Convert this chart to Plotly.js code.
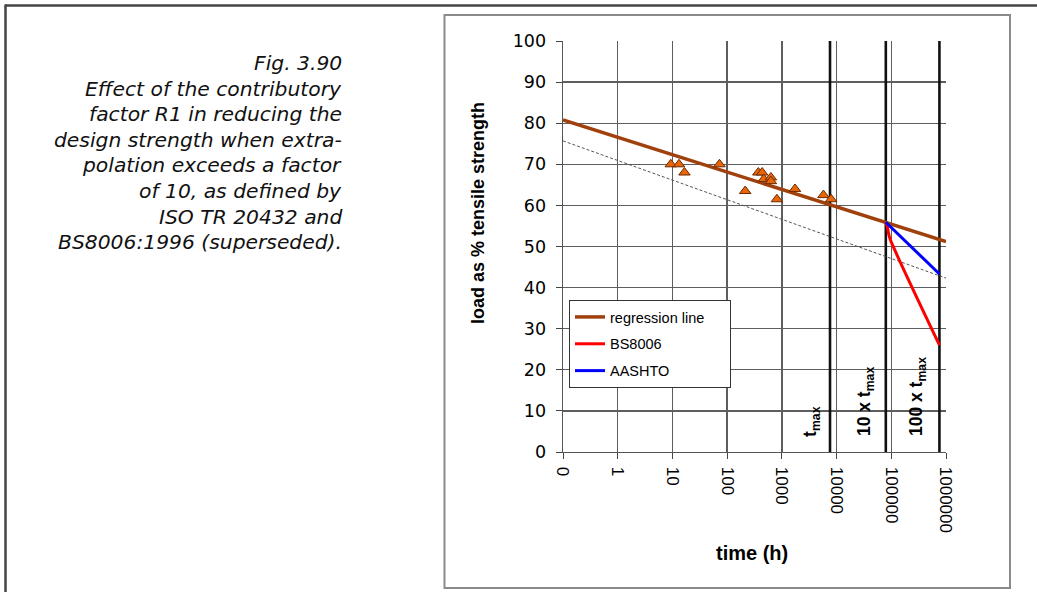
<!DOCTYPE html>
<html>
<head>
<meta charset="utf-8">
<script src="https://cdn.plot.ly/plotly-3.0.1.min.js"></script>
<style>
html,body{margin:0;padding:0;background:#fff;}
#chart{width:1037px;height:592px;}
</style>
</head>
<body>
<div id="chart"></div>
<script>
// x axis is log10(time)+1 position: 0 -> "0", 1 -> "1", 2 -> "10", ...
const tickPositions = [0, 1, 2, 3, 4, 5, 6, 7];
const tickLabels = ["0", "1", "10", "100", "1000", "10000", "100000", "1000000"];
const yTicks = [0, 10, 20, 30, 40, 50, 60, 70, 80, 90, 100];

// test data points (triangles)
const dataX = [1.97, 2.12, 2.22, 2.86, 3.33, 3.57, 3.64, 3.67, 3.80, 3.80, 3.91, 4.24, 4.76, 4.90];
const dataY = [70.0, 70.0, 68.0, 70.0, 63.5, 68.0, 68.0, 66.4, 66.8, 65.9, 61.5, 64.0, 62.5, 61.5];

// regression line
const regX = [0, 7];
const regY = [80.8, 51.2];

// lower confidence (dotted) line
const lowX = [0, 7];
const lowY = [75.7, 42.3];

// BS8006 extrapolation
const bsX = [5.90, 5.927, 5.964, 6.037, 6.88];
const bsY = [55.9, 54.8, 52.4, 49.95, 26.0];

// AASHTO extrapolation
const aaX = [5.90, 6.88];
const aaY = [55.9, 43.3];

// t_max markers
const markerX = [4.88, 5.90, 6.88];
const markerLabels = ["<b>t<sub>max</sub></b>", "<b>10 x t<sub>max</sub></b>", "<b>100 x t<sub>max</sub></b>"];
const markerLabelX = [4.55, 5.54, 6.49];

const legendNames = ["regression line", "BS8006", "AASHTO"];
const legendPad = "&nbsp;&nbsp;&nbsp;&nbsp;&nbsp;";

const captionLines = [
  "Fig. 3.90",
  "Effect of the contributory",
  "factor R1 in reducing the",
  "design strength when extra-",
  "polation exceeds a factor",
  "of 10, as defined by",
  "ISO TR 20432 and",
  "BS8006:1996 (superseded)."
];
const captionY = [63.3, 89.3, 114.3, 140, 165, 191, 216.7, 241.7];

// plot geometry (px)
const L = 563, R = 946, T = 41, B = 452, W = 1037, H = 592;
const px2x = p => (p - L) / (R - L);
const py2y = p => (B - p) / (B - T);

const traces = [];
// vertical t_max lines
markerX.forEach(function (x) {
  traces.push({x: [x, x], y: [0, 100], mode: 'lines', line: {color: '#111', width: 2.6},
    showlegend: false, hoverinfo: 'skip'});
});
traces.push({x: lowX, y: lowY, mode: 'lines', line: {color: '#555', width: 1, dash: '3px,2px'},
  showlegend: false, hoverinfo: 'skip'});
traces.push({x: regX, y: regY, mode: 'lines', name: legendNames[0] + legendPad, legendgroup: 'a',
  line: {color: '#A0410D', width: 3.5}});
traces.push({x: bsX, y: bsY, mode: 'lines', name: legendNames[1], legendgroup: 'b',
  line: {color: '#FF0000', width: 3, shape: 'spline', smoothing: 1.2}});
traces.push({x: aaX, y: aaY, mode: 'lines', name: legendNames[2], legendgroup: 'c',
  line: {color: '#0000FF', width: 3}});
traces.push({x: dataX, y: dataY, mode: 'markers', showlegend: false,
  marker: {symbol: 'triangle-up', size: 10, color: '#E8650A', line: {color: '#6b2a00', width: 1}}});

const annotations = [];
captionLines.forEach(function (t, i) {
  annotations.push({xref: 'paper', yref: 'paper', x: px2x(343.5), y: py2y(captionY[i]),
    xanchor: 'right', yanchor: 'middle', showarrow: false, align: 'right',
    text: '<i>' + t + '</i>', font: {family: 'DejaVu Sans', size: 20.3, color: '#111'}});
});
markerX.forEach(function (x, i) {
  annotations.push({xref: 'x', yref: 'y', x: markerLabelX[i], y: 3.3, xanchor: 'center', yanchor: 'bottom',
    textangle: -90, showarrow: false, text: markerLabels[i],
    font: {family: 'Liberation Sans, Arial', size: 17.5, color: '#000'}});
});
// axis titles
annotations.push({xref: 'paper', yref: 'paper', x: px2x(752), y: py2y(553), xanchor: 'center', yanchor: 'middle',
  showarrow: false, text: '<b>time (h)</b>', font: {family: 'Liberation Sans, Arial', size: 20, color: '#000'}});
annotations.push({xref: 'paper', yref: 'paper', x: px2x(478), y: py2y(213), xanchor: 'center', yanchor: 'middle',
  textangle: -90, showarrow: false, text: '<b>load as % tensile strength</b>',
  font: {family: 'Liberation Sans, Arial', size: 18, color: '#000'}});

const shapes = [
  {type: 'line', xref: 'paper', yref: 'paper', x0: px2x(5), x1: px2x(1037), y0: py2y(5.5), y1: py2y(5.5),
    line: {color: '#444', width: 2.5}},
  {type: 'line', xref: 'paper', yref: 'paper', x0: px2x(5.5), x1: px2x(5.5), y0: py2y(4.5), y1: py2y(592),
    line: {color: '#444', width: 2.5}},
  {type: 'rect', xref: 'paper', yref: 'paper', x0: px2x(444.5), x1: px2x(1010), y0: py2y(15), y1: py2y(588),
    line: {color: '#8a8a8a', width: 2}}
];

const layout = {
  width: W, height: H,
  margin: {l: L, r: W - R, t: T, b: H - B, pad: 0},
  paper_bgcolor: '#fff', plot_bgcolor: '#fff',
  font: {family: 'Liberation Sans, Arial', color: '#000'},
  showlegend: true,
  legend: {x: px2x(569), y: py2y(300), xanchor: 'left', yanchor: 'top',
    bgcolor: '#fff', bordercolor: '#333', borderwidth: 1,
    font: {family: 'Liberation Sans, Arial', size: 14.5, color: '#000'},
    traceorder: 'grouped', tracegroupgap: 5, itemwidth: 30},
  xaxis: {range: [0, 7], tickmode: 'array', tickvals: tickPositions, ticktext: tickLabels,
    tickangle: 90, ticks: 'outside', ticklen: 6, tickcolor: '#444', tickwidth: 1,
    showgrid: true, gridcolor: '#5e5e5e', gridwidth: 1.4, zeroline: false,
    showline: true, linecolor: '#555', linewidth: 1.4, mirror: false,
    tickfont: {size: 17, family: 'Liberation Sans, Arial'}, ticklabelstandoff: 4,
    fixedrange: true},
  yaxis: {range: [0, 100], tickmode: 'array', tickvals: yTicks,
    ticks: 'outside', ticklen: 6, tickcolor: '#444', tickwidth: 1,
    showgrid: true, gridcolor: '#5e5e5e', gridwidth: 1.4, zeroline: false,
    showline: true, linecolor: '#555', linewidth: 1.4,
    tickfont: {size: 17.5, family: 'DejaVu Sans'}, ticklabelstandoff: 6,
    fixedrange: true},
  annotations: annotations,
  shapes: shapes
};

Plotly.newPlot('chart', traces, layout, {displayModeBar: false, staticPlot: true});
</script>
</body>
</html>
